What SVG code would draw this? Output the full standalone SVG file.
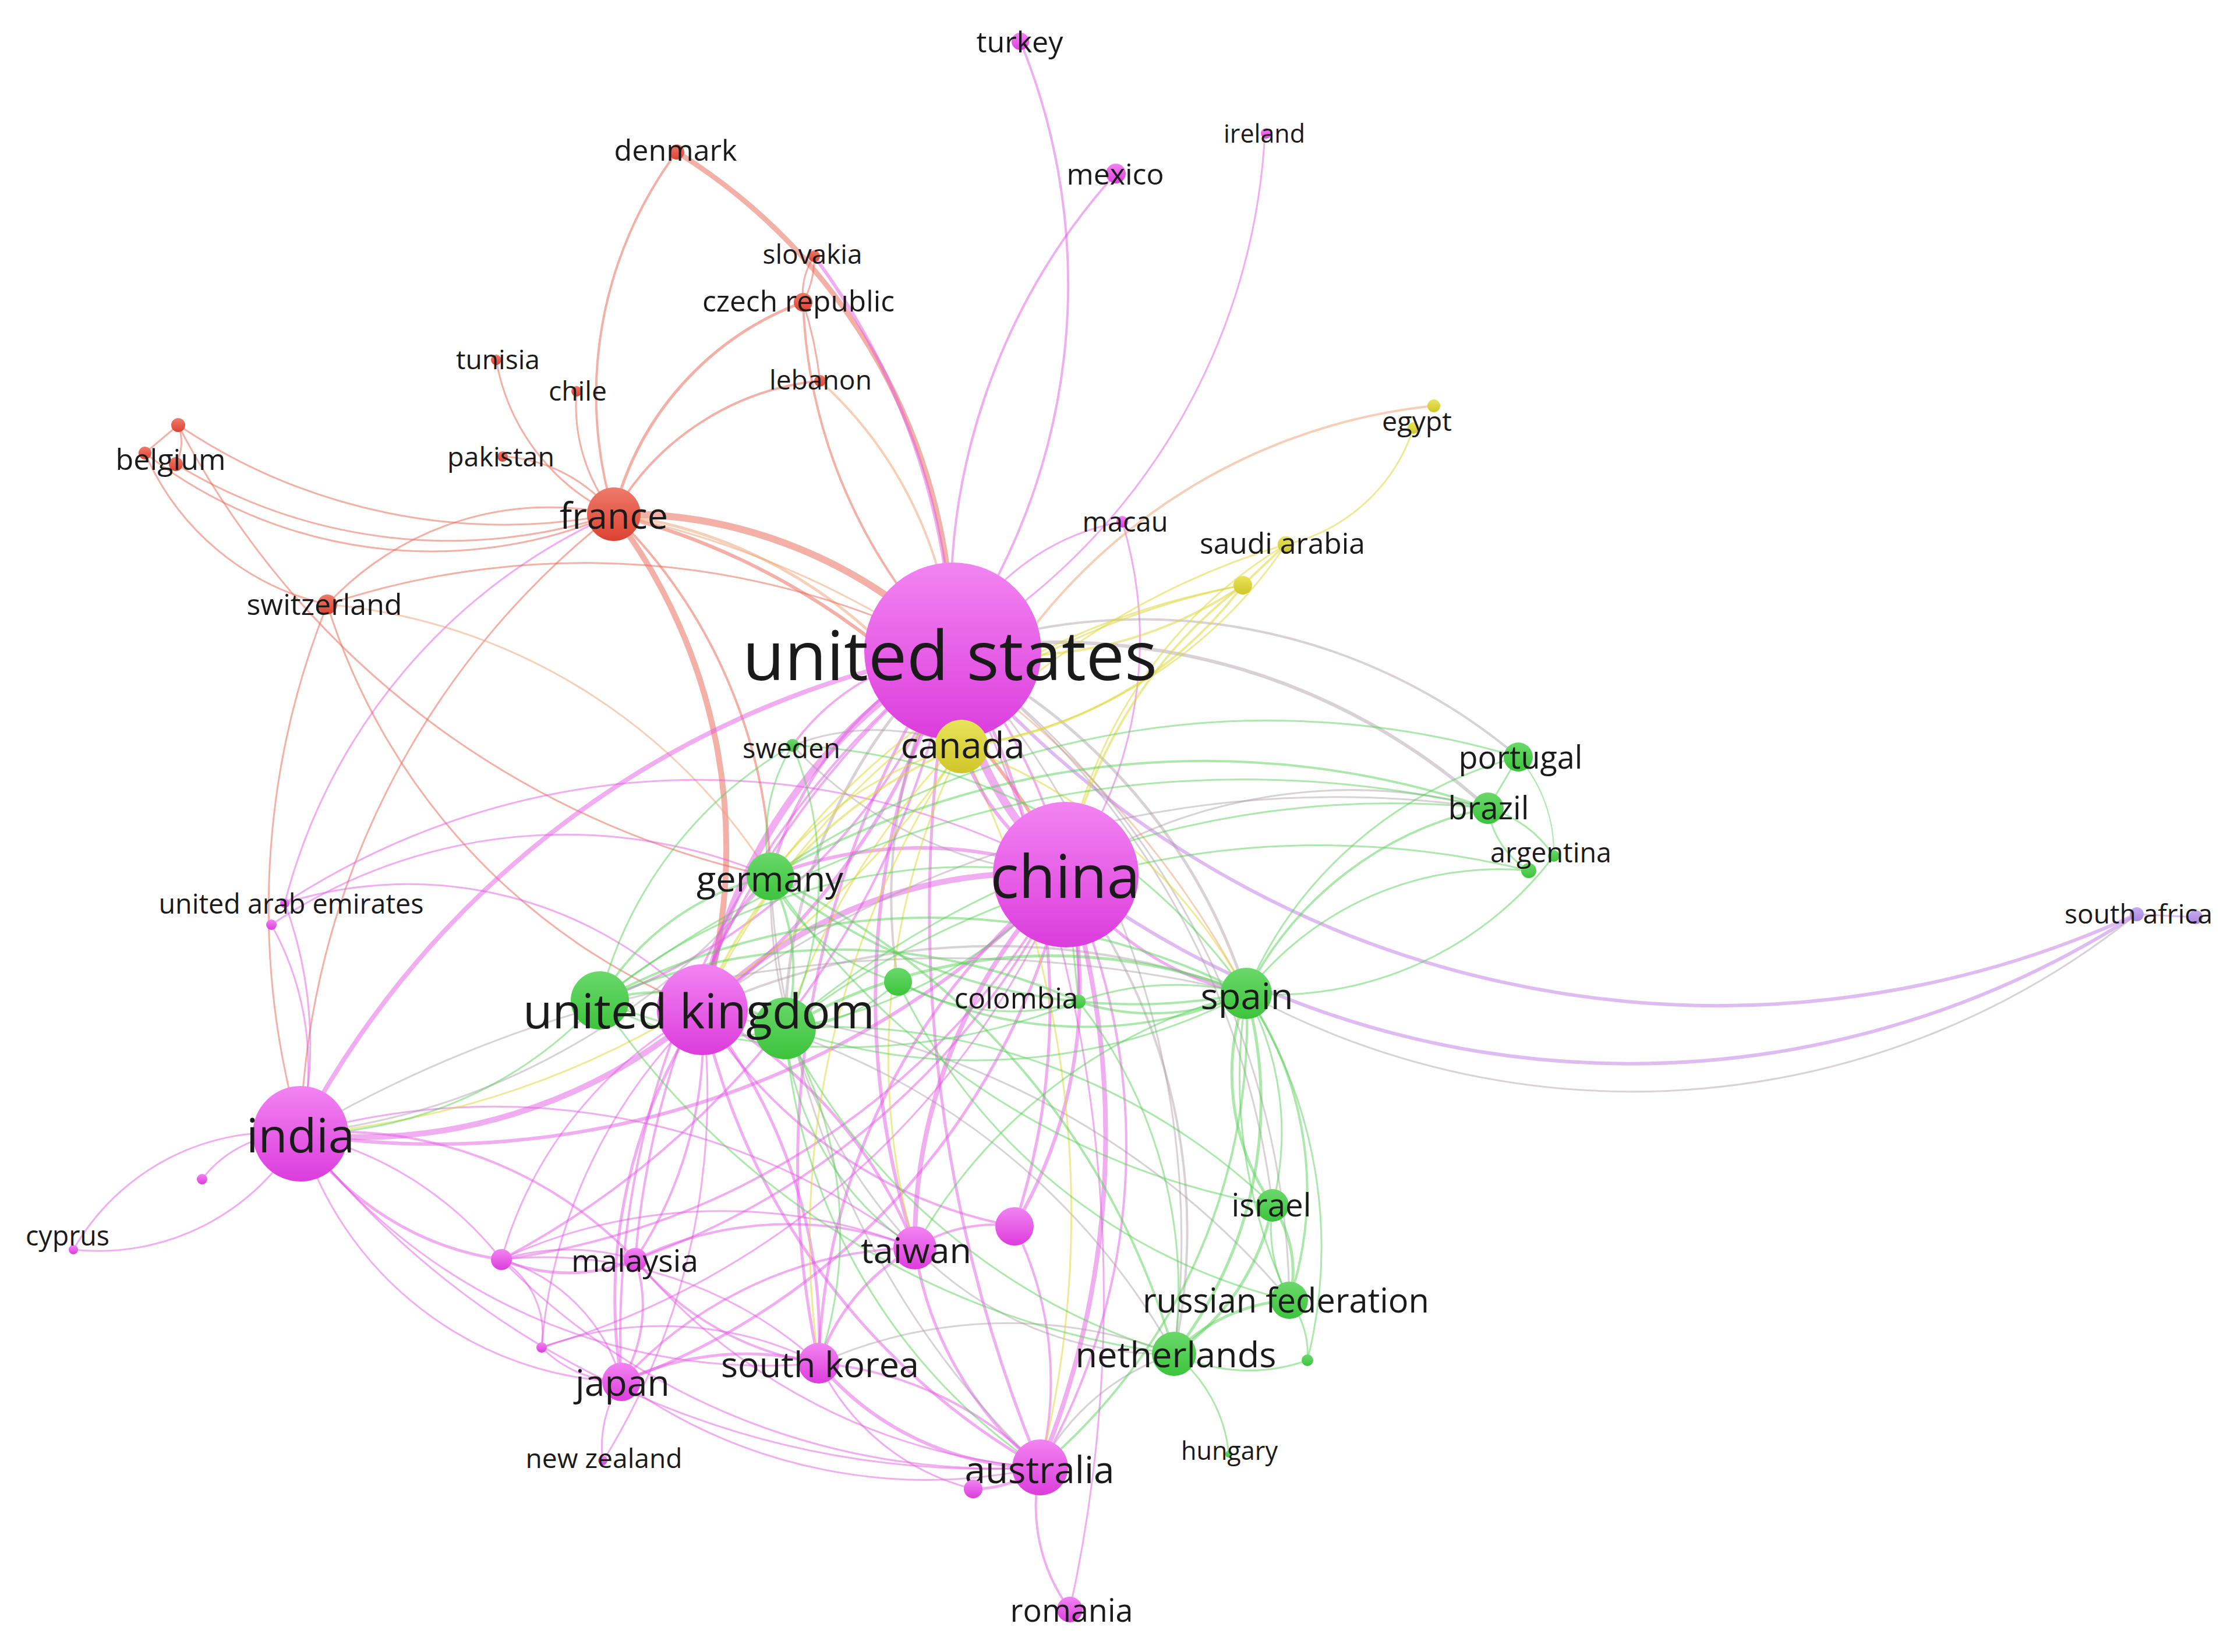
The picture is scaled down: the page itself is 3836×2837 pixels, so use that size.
<svg xmlns="http://www.w3.org/2000/svg" width="3836" height="2837" viewBox="0 0 3836 2837">
<style>
.e path{fill:none;stroke-linecap:round}
.m{stroke:#e25ce2;stroke-opacity:.5}
.g{stroke:#5ad05a;stroke-opacity:.5}
.r{stroke:#e8705e;stroke-opacity:.55}
.y{stroke:#dcd840;stroke-opacity:.55}
.o{stroke:#eba070;stroke-opacity:.5}
.n{stroke:#a89aa4;stroke-opacity:.45}
.p{stroke:#c890e8;stroke-opacity:.6}
.t{font-family:'Open Sans','Liberation Sans',sans-serif;fill:#1a1a1a;text-anchor:middle;dominant-baseline:central}
</style>
<defs>
<linearGradient id="gm" x1="0" y1="0" x2="0" y2="1"><stop offset="0" stop-color="#f284f2"/><stop offset="1" stop-color="#dc3cdc"/></linearGradient>
<linearGradient id="gg" x1="0" y1="0" x2="0" y2="1"><stop offset="0" stop-color="#6ad86a"/><stop offset="1" stop-color="#3cc43c"/></linearGradient>
<linearGradient id="gr" x1="0" y1="0" x2="0" y2="1"><stop offset="0" stop-color="#ee7a6a"/><stop offset="1" stop-color="#dc4232"/></linearGradient>
<linearGradient id="gy" x1="0" y1="0" x2="0" y2="1"><stop offset="0" stop-color="#e8e45a"/><stop offset="1" stop-color="#d0c62a"/></linearGradient>
<linearGradient id="gp" x1="0" y1="0" x2="0" y2="1"><stop offset="0" stop-color="#c6aaee"/><stop offset="1" stop-color="#a888e0"/></linearGradient>
</defs>
<rect width="3836" height="2837" fill="#fff"/>
<g id="connectors" class="e">
<!-- red -->
<path class="r" stroke-width="4" d="M1054 883A700 700 0 0 1 1162 261"/>
<path class="r" stroke-width="5" d="M1054 883A520 520 0 0 1 1379 519"/>
<path class="r" stroke-width="4" d="M1054 883A460 460 0 0 1 1408 654"/>
<path class="r" stroke-width="3" d="M852 618A360 360 0 0 0 1054 883"/>
<path class="r" stroke-width="3" d="M990 672A300 300 0 0 0 1054 883"/>
<path class="r" stroke-width="3" d="M863 784A260 260 0 0 1 1054 883"/>
<path class="r" stroke-width="3" d="M1379 519A120 120 0 0 1 1398 440"/>
<path class="r" stroke-width="3" d="M1379 519A160 160 0 0 0 1398 440"/>
<path class="r" stroke-width="9" d="M1162 261A1000 1000 0 0 1 1636 1118"/>
<path class="m" stroke-width="6" d="M1398 440A1200 1200 0 0 1 1636 1118"/>
<path class="r" stroke-width="4" d="M1379 519A900 900 0 0 0 1636 1118"/>
<path class="o" stroke-width="4" d="M1408 654A700 700 0 0 1 1636 1118"/>
<path class="r" stroke-width="3" d="M1379 519A700 700 0 0 1 1408 654"/>
<path class="r" stroke-width="12" d="M1054 883A800 800 0 0 1 1636 1118"/>
<path class="r" stroke-width="6" d="M1054 883A1200 1200 0 0 1 1830 1502"/>
<path class="r" stroke-width="10" d="M1054 883A950 950 0 0 1 1206 1734"/>
<path class="r" stroke-width="4" d="M1054 883A900 900 0 0 1 1323 1505"/>
<path class="r" stroke-width="3" d="M1054 883A1400 1400 0 0 0 516 1947"/>
<path class="o" stroke-width="5" d="M1054 883A800 800 0 0 1 1651 1282"/>
<path class="m" stroke-width="3" d="M1054 883A1000 1000 0 0 0 489 1551"/>
<path class="o" stroke-width="3" d="M1054 883A1600 1600 0 0 1 2140 1706"/>
<path class="r" stroke-width="3" d="M249 778A800 800 0 0 0 1054 883"/>
<path class="r" stroke-width="3" d="M302 797A900 900 0 0 0 1054 883"/>
<path class="r" stroke-width="3" d="M306 730A1000 1000 0 0 0 1054 883"/>
<path class="r" stroke-width="3" d="M1054 883A520 520 0 0 0 562 1038"/>
<path class="r" stroke-width="3" d="M249 778A450 450 0 0 0 562 1038"/>
<path class="r" stroke-width="3" d="M306 730A1500 1500 0 0 0 1323 1505"/>
<path class="o" stroke-width="3" d="M562 1038A1000 1000 0 0 1 1323 1505"/>
<path class="r" stroke-width="3" d="M562 1038A1400 1400 0 0 0 516 1947"/>
<path class="r" stroke-width="3" d="M562 1038A1100 1100 0 0 0 1206 1734"/>
<path class="r" stroke-width="3" d="M562 1038A1400 1400 0 0 1 1636 1118"/>
<path class="r" stroke-width="3" d="M306 730L249 778"/>
<path class="r" stroke-width="3" d="M306 730A80 80 0 0 1 302 797"/>
<!-- magenta -->
<path class="m" stroke-width="14" d="M1636 1118A600 600 0 0 0 1830 1502"/>
<path class="m" stroke-width="12" d="M1636 1118A900 900 0 0 0 1206 1734"/>
<path class="m" stroke-width="6" d="M1636 1118A1200 1200 0 0 1 1206 1734"/>
<path class="m" stroke-width="8" d="M1636 1118A1600 1600 0 0 0 516 1947"/>
<path class="m" stroke-width="10" d="M516 1947A900 900 0 0 0 1206 1734"/>
<path class="m" stroke-width="6" d="M516 1947A1500 1500 0 0 0 1830 1502"/>
<path class="m" stroke-width="5" d="M516 1947A500 500 0 0 0 861 2163"/>
<path class="m" stroke-width="3" d="M516 1947A600 600 0 0 1 861 2163"/>
<path class="m" stroke-width="4" d="M516 1947A700 700 0 0 1 1091 2163"/>
<path class="m" stroke-width="3" d="M516 1947A600 600 0 0 0 1067 2373"/>
<path class="m" stroke-width="3" d="M516 1947A1000 1000 0 0 0 1406 2341"/>
<path class="m" stroke-width="3" d="M516 1947A1500 1500 0 0 0 1786 2520"/>
<path class="m" stroke-width="3" d="M516 1947A1200 1200 0 0 1 1571 2143"/>
<path class="m" stroke-width="3" d="M516 1947A400 400 0 0 0 126 2146"/>
<path class="m" stroke-width="3" d="M516 1947A400 400 0 0 1 126 2146"/>
<path class="m" stroke-width="3" d="M516 1947A200 200 0 0 0 347 2025"/>
<path class="m" stroke-width="3" d="M466 1588A500 500 0 0 1 516 1947"/>
<path class="m" stroke-width="3" d="M489 1551A700 700 0 0 1 516 1947"/>
<path class="m" stroke-width="3" d="M489 1551A700 700 0 0 1 1206 1734"/>
<path class="m" stroke-width="3" d="M466 1588A900 900 0 0 1 1323 1505"/>
<path class="m" stroke-width="3" d="M489 1551A1300 1300 0 0 1 1830 1502"/>
<path class="m" stroke-width="5" d="M1636 1118A2500 2500 0 0 0 1786 2520"/>
<path class="m" stroke-width="8" d="M1830 1502A1500 1500 0 0 1 1786 2520"/>
<path class="m" stroke-width="4" d="M1830 1502A1100 1100 0 0 1 1786 2520"/>
<path class="m" stroke-width="8" d="M1830 1502A900 900 0 0 0 1571 2143"/>
<path class="m" stroke-width="6" d="M1636 1118A1400 1400 0 0 0 1571 2143"/>
<path class="m" stroke-width="5" d="M1830 1502A1100 1100 0 0 0 1406 2341"/>
<path class="m" stroke-width="5" d="M1636 1118A1600 1600 0 0 0 1406 2341"/>
<path class="m" stroke-width="5" d="M1830 1502A1200 1200 0 0 1 1067 2373"/>
<path class="m" stroke-width="4" d="M1636 1118A1500 1500 0 0 0 1067 2373"/>
<path class="m" stroke-width="4" d="M1830 1502A1300 1300 0 0 1 1091 2163"/>
<path class="m" stroke-width="4" d="M1636 1118A1500 1500 0 0 0 1091 2163"/>
<path class="m" stroke-width="6" d="M1830 1502A800 800 0 0 1 1742 2106"/>
<path class="m" stroke-width="5" d="M1636 1118A1200 1200 0 0 1 1742 2106"/>
<path class="m" stroke-width="4" d="M1206 1734A800 800 0 0 0 1742 2106"/>
<path class="m" stroke-width="10" d="M1830 1502A800 800 0 0 0 1206 1734"/>
<path class="m" stroke-width="6" d="M1830 1502A700 700 0 0 0 1323 1505"/>
<path class="m" stroke-width="5" d="M1636 1118A600 600 0 0 0 1323 1505"/>
<path class="m" stroke-width="4" d="M1752 71A1100 1100 0 0 1 1636 1118"/>
<path class="m" stroke-width="4" d="M1916 298A1100 1100 0 0 0 1636 1118"/>
<path class="m" stroke-width="3" d="M2172 228A1100 1100 0 0 1 1636 1118"/>
<path class="m" stroke-width="3" d="M1927 896A400 400 0 0 0 1636 1118"/>
<path class="m" stroke-width="3" d="M1927 896A700 700 0 0 1 1830 1502"/>
<path class="m" stroke-width="10" d="M1636 1118L1651 1282"/>
<path class="m" stroke-width="4" d="M1636 1118A400 400 0 0 0 1361 1280"/>
<path class="m" stroke-width="4" d="M1636 1118A1000 1000 0 0 1 1030 1718"/>
<path class="n" stroke-width="5" d="M1636 1118A900 900 0 0 0 1348 1766"/>
<path class="m" stroke-width="4" d="M1636 1118A900 900 0 0 1 1852 1720"/>
<path class="m" stroke-width="3" d="M1636 1118A2500 2500 0 0 1 1837 2764"/>
<path class="m" stroke-width="5" d="M1206 1734A900 900 0 0 0 1067 2373"/>
<path class="m" stroke-width="5" d="M1206 1734A900 900 0 0 1 1406 2341"/>
<path class="m" stroke-width="5" d="M1206 1734A800 800 0 0 1 1571 2143"/>
<path class="m" stroke-width="5" d="M1206 1734A1200 1200 0 0 0 1786 2520"/>
<path class="m" stroke-width="4" d="M1206 1734A700 700 0 0 1 1091 2163"/>
<path class="m" stroke-width="3" d="M1206 1734A700 700 0 0 0 861 2163"/>
<path class="m" stroke-width="3" d="M1206 1734A900 900 0 0 0 930 2314"/>
<path class="m" stroke-width="3" d="M1206 1734A1200 1200 0 0 1 1035 2510"/>
<path class="m" stroke-width="5" d="M861 2163A300 300 0 0 0 1091 2163"/>
<path class="m" stroke-width="3" d="M861 2163A400 400 0 0 1 1091 2163"/>
<path class="m" stroke-width="3" d="M861 2163A300 300 0 0 1 1067 2373"/>
<path class="m" stroke-width="3" d="M861 2163A150 150 0 0 1 930 2314"/>
<path class="m" stroke-width="3" d="M861 2163A700 700 0 0 1 1406 2341"/>
<path class="m" stroke-width="3" d="M861 2163A900 900 0 0 1 1571 2143"/>
<path class="m" stroke-width="3" d="M861 2163A1200 1200 0 0 0 1786 2520"/>
<path class="m" stroke-width="4" d="M861 2163A1300 1300 0 0 0 1830 1502"/>
<path class="m" stroke-width="4" d="M861 2163A1500 1500 0 0 0 1636 1118"/>
<path class="m" stroke-width="3" d="M930 2314A200 200 0 0 0 1067 2373"/>
<path class="m" stroke-width="3" d="M930 2314A600 600 0 0 1 1406 2341"/>
<path class="m" stroke-width="3" d="M930 2314A1400 1400 0 0 0 1830 1502"/>
<path class="m" stroke-width="4" d="M1091 2163A250 250 0 0 1 1067 2373"/>
<path class="m" stroke-width="4" d="M1091 2163A500 500 0 0 0 1406 2341"/>
<path class="m" stroke-width="4" d="M1091 2163A600 600 0 0 1 1571 2143"/>
<path class="m" stroke-width="3" d="M1091 2163A1000 1000 0 0 0 1786 2520"/>
<path class="m" stroke-width="5" d="M1067 2373A500 500 0 0 1 1406 2341"/>
<path class="m" stroke-width="4" d="M1067 2373A700 700 0 0 1 1571 2143"/>
<path class="m" stroke-width="3" d="M1067 2373A200 200 0 0 0 1035 2510"/>
<path class="m" stroke-width="3" d="M1067 2373A900 900 0 0 0 1786 2520"/>
<path class="m" stroke-width="5" d="M1406 2341A350 350 0 0 1 1571 2143"/>
<path class="m" stroke-width="6" d="M1406 2341A500 500 0 0 0 1786 2520"/>
<path class="m" stroke-width="4" d="M1406 2341A600 600 0 0 1 1786 2520"/>
<path class="m" stroke-width="5" d="M1571 2143A600 600 0 0 0 1786 2520"/>
<path class="m" stroke-width="4" d="M1571 2143A250 250 0 0 1 1742 2106"/>
<path class="m" stroke-width="4" d="M1742 2106A600 600 0 0 1 1786 2520"/>
<path class="m" stroke-width="5" d="M1786 2520A200 200 0 0 1 1671 2557"/>
<path class="m" stroke-width="4" d="M1786 2520A300 300 0 0 0 1837 2764"/>
<path class="m" stroke-width="3" d="M1406 2341A400 400 0 0 0 1671 2557"/>
<path class="p" stroke-width="6" d="M1636 1118A1723 1723 0 0 0 3669 1570"/>
<path class="p" stroke-width="6" d="M1830 1502A1606 1606 0 0 0 3669 1570"/>
<path class="n" stroke-width="3" d="M2140 1706A1385 1385 0 0 0 3669 1570"/>
<path class="p" stroke-width="3" d="M3669 1570L3770 1575"/>
<!-- mixed -->
<path class="n" stroke-width="5" d="M1636 1118A1000 1000 0 0 1 2140 1706"/>
<path class="m" stroke-width="5" d="M1830 1502A500 500 0 0 0 2140 1706"/>
<path class="n" stroke-width="3" d="M1636 1118A1500 1500 0 0 1 2016 2325"/>
<path class="n" stroke-width="4" d="M1830 1502A1000 1000 0 0 1 2016 2325"/>
<path class="n" stroke-width="6" d="M1636 1118A1100 1100 0 0 1 2555 1388"/>
<path class="n" stroke-width="4" d="M1636 1118A1000 1000 0 0 1 2607 1300"/>
<path class="n" stroke-width="3" d="M1830 1502A900 900 0 0 1 2555 1388"/>
<path class="n" stroke-width="4" d="M1636 1118A900 900 0 0 0 1542 1686"/>
<path class="n" stroke-width="3" d="M1636 1118A1400 1400 0 0 1 2185 2070"/>
<path class="n" stroke-width="3" d="M1636 1118A1400 1400 0 0 1 2214 2233"/>
<path class="n" stroke-width="3" d="M2016 2325A1200 1200 0 0 0 1206 1734"/>
<path class="n" stroke-width="3" d="M2016 2325A600 600 0 0 1 1571 2143"/>
<path class="n" stroke-width="3" d="M2016 2325A800 800 0 0 0 1406 2341"/>
<path class="n" stroke-width="3" d="M2016 2325A400 400 0 0 0 1786 2520"/>
<path class="n" stroke-width="3" d="M2214 2233A1400 1400 0 0 0 1206 1734"/>
<path class="n" stroke-width="3" d="M1323 1505A1500 1500 0 0 0 1786 2520"/>
<path class="n" stroke-width="3" d="M1323 1505A900 900 0 0 0 1571 2143"/>
<path class="n" stroke-width="4" d="M2140 1706A1200 1200 0 0 0 1206 1734"/>
<path class="n" stroke-width="3" d="M2140 1706A2200 2200 0 0 0 516 1947"/>
<path class="n" stroke-width="3" d="M2555 1388A1800 1800 0 0 0 1206 1734"/>
<path class="n" stroke-width="3" d="M1361 1280A400 400 0 0 1 1651 1282"/>
<path class="n" stroke-width="3" d="M1361 1280A700 700 0 0 0 1830 1502"/>
<path class="n" stroke-width="3" d="M1323 1505A1200 1200 0 0 1 516 1947"/>
<!-- yellow -->
<path class="y" stroke-width="4" d="M2134 1005A700 700 0 0 1 1636 1118"/>
<path class="y" stroke-width="4" d="M2134 1005A700 700 0 0 1 1651 1282"/>
<path class="y" stroke-width="3" d="M2208 935A800 800 0 0 1 1651 1282"/>
<path class="y" stroke-width="4" d="M2134 1005A800 800 0 0 0 1830 1502"/>
<path class="y" stroke-width="3" d="M2208 935A800 800 0 0 0 1830 1502"/>
<path class="y" stroke-width="4" d="M2208 935L2134 1005"/>
<path class="y" stroke-width="3" d="M2208 935A300 300 0 0 0 2427 735"/>
<path class="o" stroke-width="4" d="M2462 697A1000 1000 0 0 0 1651 1282"/>
<path class="y" stroke-width="3" d="M2134 1005A1300 1300 0 0 0 1323 1505"/>
<path class="y" stroke-width="3" d="M2134 1005A1300 1300 0 0 0 1206 1734"/>
<path class="y" stroke-width="3" d="M2208 935A1300 1300 0 0 0 1348 1766"/>
<path class="y" stroke-width="4" d="M1651 1282A800 800 0 0 0 1206 1734"/>
<path class="y" stroke-width="3" d="M1651 1282A1800 1800 0 0 1 1786 2520"/>
<path class="y" stroke-width="3" d="M1651 1282A1200 1200 0 0 0 1571 2143"/>
<path class="y" stroke-width="3" d="M1651 1282A900 900 0 0 1 2140 1706"/>
<path class="y" stroke-width="3" d="M1651 1282A1500 1500 0 0 0 1406 2341"/>
<path class="y" stroke-width="3" d="M1651 1282A1500 1500 0 0 1 516 1947"/>
<path class="y" stroke-width="3" d="M1651 1282A600 600 0 0 0 1323 1505"/>
<path class="m" stroke-width="6" d="M1651 1282A400 400 0 0 0 1830 1502"/>
<!-- green -->
<path class="g" stroke-width="4" d="M2140 1706A600 600 0 0 1 2555 1388"/>
<path class="g" stroke-width="3" d="M2140 1706A700 700 0 0 1 2607 1300"/>
<path class="g" stroke-width="3" d="M2140 1706A550 550 0 0 1 2625 1495"/>
<path class="g" stroke-width="3" d="M2668 1470A600 600 0 0 1 2140 1706"/>
<path class="g" stroke-width="5" d="M2140 1706A400 400 0 0 0 2185 2070"/>
<path class="g" stroke-width="3" d="M2140 1706A500 500 0 0 1 2185 2070"/>
<path class="g" stroke-width="4" d="M2140 1706A600 600 0 0 1 2214 2233"/>
<path class="g" stroke-width="3" d="M2140 1706A900 900 0 0 0 2214 2233"/>
<path class="g" stroke-width="5" d="M2140 1706A700 700 0 0 1 2016 2325"/>
<path class="g" stroke-width="3" d="M2140 1706A800 800 0 0 1 2245 2336"/>
<path class="g" stroke-width="4" d="M2140 1706A400 400 0 0 1 1852 1720"/>
<path class="g" stroke-width="3" d="M2140 1706A500 500 0 0 0 1852 1720"/>
<path class="g" stroke-width="4" d="M2140 1706A700 700 0 0 1 1542 1686"/>
<path class="g" stroke-width="5" d="M2140 1706A900 900 0 0 0 1348 1766"/>
<path class="g" stroke-width="3" d="M2140 1706A1000 1000 0 0 1 1348 1766"/>
<path class="g" stroke-width="4" d="M2140 1706A1200 1200 0 0 0 1030 1718"/>
<path class="g" stroke-width="4" d="M2140 1706A1000 1000 0 0 1 1323 1505"/>
<path class="g" stroke-width="3" d="M2140 1706A1000 1000 0 0 0 1361 1280"/>
<path class="g" stroke-width="4" d="M2140 1706A1000 1000 0 0 1 1786 2520"/>
<path class="g" stroke-width="3" d="M2140 1706A900 900 0 0 0 1571 2143"/>
<path class="g" stroke-width="3" d="M2555 1388L2607 1300"/>
<path class="g" stroke-width="3" d="M2555 1388A150 150 0 0 0 2625 1495"/>
<path class="g" stroke-width="3" d="M2555 1388A200 200 0 0 1 2668 1470"/>
<path class="g" stroke-width="2" d="M2607 1300A250 250 0 0 1 2668 1470"/>
<path class="g" stroke-width="4" d="M2555 1388A1500 1500 0 0 0 1323 1505"/>
<path class="g" stroke-width="3" d="M2555 1388A1800 1800 0 0 0 1030 1718"/>
<path class="g" stroke-width="3" d="M2555 1388A1600 1600 0 0 0 1348 1766"/>
<path class="g" stroke-width="3" d="M2607 1300A1500 1500 0 0 0 1323 1505"/>
<path class="g" stroke-width="3" d="M2625 1495A1500 1500 0 0 0 1348 1766"/>
<path class="g" stroke-width="5" d="M2016 2325A300 300 0 0 1 2214 2233"/>
<path class="g" stroke-width="5" d="M2016 2325A400 400 0 0 0 2185 2070"/>
<path class="g" stroke-width="3" d="M2016 2325A300 300 0 0 0 2245 2336"/>
<path class="g" stroke-width="3" d="M2016 2325A250 250 0 0 1 2110 2497"/>
<path class="g" stroke-width="4" d="M2016 2325A1300 1300 0 0 0 1323 1505"/>
<path class="g" stroke-width="3" d="M2016 2325A1100 1100 0 0 1 1348 1766"/>
<path class="g" stroke-width="3" d="M2016 2325A1400 1400 0 0 1 1030 1718"/>
<path class="g" stroke-width="3" d="M2016 2325A800 800 0 0 0 1852 1720"/>
<path class="g" stroke-width="5" d="M2214 2233A200 200 0 0 0 2185 2070"/>
<path class="g" stroke-width="3" d="M2214 2233A260 260 0 0 1 2185 2070"/>
<path class="g" stroke-width="3" d="M2214 2233A150 150 0 0 1 2245 2336"/>
<path class="g" stroke-width="3" d="M2185 2070A1300 1300 0 0 1 1323 1505"/>
<path class="g" stroke-width="3" d="M2185 2070A1100 1100 0 0 0 1348 1766"/>
<path class="g" stroke-width="3" d="M2214 2233A1000 1000 0 0 1 1542 1686"/>
<path class="g" stroke-width="3" d="M1323 1505A300 300 0 0 1 1361 1280"/>
<path class="g" stroke-width="4" d="M1323 1505A450 450 0 0 0 1030 1718"/>
<path class="g" stroke-width="4" d="M1323 1505A350 350 0 0 1 1348 1766"/>
<path class="m" stroke-width="5" d="M1323 1505A350 350 0 0 0 1206 1734"/>
<path class="g" stroke-width="3" d="M1323 1505A350 350 0 0 0 1542 1686"/>
<path class="g" stroke-width="3" d="M1361 1280A700 700 0 0 0 1030 1718"/>
<path class="g" stroke-width="3" d="M1361 1280A600 600 0 0 1 1348 1766"/>
<path class="g" stroke-width="4" d="M1030 1718A400 400 0 0 1 1348 1766"/>
<path class="g" stroke-width="3" d="M1030 1718A400 400 0 0 0 1348 1766"/>
<path class="g" stroke-width="3" d="M1030 1718A700 700 0 0 1 516 1947"/>
<path class="g" stroke-width="3" d="M1030 1718A1000 1000 0 0 1 1830 1502"/>
<path class="g" stroke-width="3" d="M1348 1766A800 800 0 0 0 1830 1502"/>
<path class="g" stroke-width="3" d="M1348 1766A1000 1000 0 0 0 1786 2520"/>
<path class="g" stroke-width="3" d="M1348 1766A500 500 0 0 0 1571 2143"/>
<path class="g" stroke-width="3" d="M1348 1766A700 700 0 0 1 1406 2341"/>
<path class="g" stroke-width="3" d="M1542 1686A400 400 0 0 0 1852 1720"/>
<path class="g" stroke-width="3" d="M1542 1686A300 300 0 0 1 1348 1766"/>
<path class="g" stroke-width="3" d="M1852 1720L1830 1502"/>
<path class="g" stroke-width="4" d="M1852 1720A1000 1000 0 0 0 1030 1718"/>
<path class="g" stroke-width="3" d="M1852 1720A1100 1100 0 0 1 1030 1718"/>
</g>
<g id="nodes">
<g id="n-united-states"><circle cx="1636" cy="1118" r="152" fill="url(#gm)"/><text class="t" x="1631" y="1122" font-size="118" textLength="712" lengthAdjust="spacingAndGlyphs">united states</text></g>
<g id="n-china"><circle cx="1830" cy="1502" r="125" fill="url(#gm)"/><text class="t" x="1829" y="1502" font-size="102" textLength="257" lengthAdjust="spacingAndGlyphs">china</text></g>
<g id="n-green-a"><circle cx="1030" cy="1718" r="50" fill="url(#gg)"/></g>
<g id="n-green-b"><circle cx="1348" cy="1766" r="53" fill="url(#gg)"/></g>
<g id="n-united-kingdom"><circle cx="1206" cy="1734" r="78" fill="url(#gm)"/><text class="t" x="1200" y="1734" font-size="82" textLength="604" lengthAdjust="spacingAndGlyphs">united kingdom</text></g>
<g id="n-india"><circle cx="516" cy="1947" r="82" fill="url(#gm)"/><text class="t" x="516" y="1947" font-size="81" textLength="186" lengthAdjust="spacingAndGlyphs">india</text></g>
<g id="n-canada"><circle cx="1651" cy="1282" r="46" fill="url(#gy)"/><text class="t" x="1653" y="1277" font-size="63" textLength="213" lengthAdjust="spacingAndGlyphs">canada</text></g>
<g id="n-france"><circle cx="1054" cy="883" r="46" fill="url(#gr)"/><text class="t" x="1054" y="883" font-size="63" textLength="186" lengthAdjust="spacingAndGlyphs">france</text></g>
<g id="n-australia"><circle cx="1786" cy="2520" r="48" fill="url(#gm)"/><text class="t" x="1785" y="2522" font-size="64" textLength="257" lengthAdjust="spacingAndGlyphs">australia</text></g>
<g id="n-taiwan"><circle cx="1571" cy="2143" r="37" fill="url(#gm)"/><text class="t" x="1573" y="2145" font-size="61" textLength="190" lengthAdjust="spacingAndGlyphs">taiwan</text></g>
<g id="n-south-korea"><circle cx="1406" cy="2341" r="35" fill="url(#gm)"/><text class="t" x="1408" y="2341" font-size="61" textLength="340" lengthAdjust="spacingAndGlyphs">south korea</text></g>
<g id="n-japan"><circle cx="1067" cy="2373" r="33" fill="url(#gm)"/><text class="t" x="1069" y="2373" font-size="62" textLength="162" lengthAdjust="spacingAndGlyphs">japan</text></g>
<g id="n-malaysia"><circle cx="1091" cy="2163" r="20" fill="url(#gm)"/><text class="t" x="1090" y="2163" font-size="53" textLength="218" lengthAdjust="spacingAndGlyphs">malaysia</text></g>
<g id="n-pink-a"><circle cx="1742" cy="2106" r="33" fill="url(#gm)"/></g>
<g id="n-pink-b"><circle cx="861" cy="2163" r="18" fill="url(#gm)"/></g>
<g id="n-pink-c"><circle cx="930" cy="2314" r="9" fill="url(#gm)"/></g>
<g id="n-pink-d"><circle cx="347" cy="2025" r="9" fill="url(#gm)"/></g>
<g id="n-pink-e"><circle cx="1671" cy="2557" r="16" fill="url(#gm)"/></g>
<g id="n-pink-f"><circle cx="466" cy="1588" r="9" fill="url(#gm)"/></g>
<g id="n-new-zealand"><circle cx="1035" cy="2508" r="8" fill="url(#gm)"/><text class="t" x="1037" y="2503" font-size="46" textLength="269" lengthAdjust="spacingAndGlyphs">new zealand</text></g>
<g id="n-romania"><circle cx="1837" cy="2764" r="22" fill="url(#gm)"/><text class="t" x="1840" y="2764" font-size="54" textLength="211" lengthAdjust="spacingAndGlyphs">romania</text></g>
<g id="n-cyprus"><circle cx="126" cy="2146" r="8" fill="url(#gm)"/><text class="t" x="116" y="2121" font-size="47" textLength="144" lengthAdjust="spacingAndGlyphs">cyprus</text></g>
<g id="n-united-arab-emirates"><circle cx="489" cy="1551" r="8" fill="url(#gm)"/><text class="t" x="500" y="1551" font-size="47" textLength="455" lengthAdjust="spacingAndGlyphs">united arab emirates</text></g>
<g id="n-turkey"><circle cx="1752" cy="71" r="15" fill="url(#gm)"/><text class="t" x="1751" y="71" font-size="50" textLength="149" lengthAdjust="spacingAndGlyphs">turkey</text></g>
<g id="n-mexico"><circle cx="1916" cy="298" r="17" fill="url(#gm)"/><text class="t" x="1915" y="298" font-size="50" textLength="167" lengthAdjust="spacingAndGlyphs">mexico</text></g>
<g id="n-ireland"><circle cx="2174" cy="229" r="9" fill="url(#gm)"/><text class="t" x="2171" y="228" font-size="43" textLength="140" lengthAdjust="spacingAndGlyphs">ireland</text></g>
<g id="n-macau"><circle cx="1927" cy="896" r="10" fill="url(#gm)"/><text class="t" x="1932" y="895" font-size="47" textLength="147" lengthAdjust="spacingAndGlyphs">macau</text></g>
<g id="n-germany"><circle cx="1323" cy="1505" r="41" fill="url(#gg)"/><text class="t" x="1322" y="1507" font-size="61" textLength="252" lengthAdjust="spacingAndGlyphs">germany</text></g>
<g id="n-spain"><circle cx="2140" cy="1706" r="44" fill="url(#gg)"/><text class="t" x="2141" y="1708" font-size="63" textLength="159" lengthAdjust="spacingAndGlyphs">spain</text></g>
<g id="n-brazil"><circle cx="2555" cy="1388" r="27" fill="url(#gg)"/><text class="t" x="2556" y="1385" font-size="55" textLength="139" lengthAdjust="spacingAndGlyphs">brazil</text></g>
<g id="n-portugal"><circle cx="2607" cy="1300" r="25" fill="url(#gg)"/><text class="t" x="2611" y="1299" font-size="54" textLength="213" lengthAdjust="spacingAndGlyphs">portugal</text></g>
<g id="n-green-c"><circle cx="2625" cy="1495" r="13" fill="url(#gg)"/></g>
<g id="n-argentina"><circle cx="2668" cy="1470" r="10" fill="url(#gg)"/><text class="t" x="2663" y="1463" font-size="47" textLength="208" lengthAdjust="spacingAndGlyphs">argentina</text></g>
<g id="n-sweden"><circle cx="1361" cy="1280" r="11" fill="url(#gg)"/><text class="t" x="1359" y="1284" font-size="47" textLength="168" lengthAdjust="spacingAndGlyphs">sweden</text></g>
<g id="n-green-d"><circle cx="1542" cy="1686" r="24" fill="url(#gg)"/></g>
<g id="n-colombia"><circle cx="1852" cy="1720" r="12" fill="url(#gg)"/><text class="t" x="1745" y="1713" font-size="50" textLength="213" lengthAdjust="spacingAndGlyphs">colombia</text></g>
<g id="n-israel"><circle cx="2185" cy="2070" r="28" fill="url(#gg)"/><text class="t" x="2183" y="2067" font-size="55" textLength="137" lengthAdjust="spacingAndGlyphs">israel</text></g>
<g id="n-russian-federation"><circle cx="2214" cy="2233" r="32" fill="url(#gg)"/><text class="t" x="2208" y="2231" font-size="58" textLength="492" lengthAdjust="spacingAndGlyphs">russian federation</text></g>
<g id="n-netherlands"><circle cx="2016" cy="2325" r="38" fill="url(#gg)"/><text class="t" x="2019" y="2324" font-size="61" textLength="345" lengthAdjust="spacingAndGlyphs">netherlands</text></g>
<g id="n-green-e"><circle cx="2245" cy="2336" r="10" fill="url(#gg)"/></g>
<g id="n-hungary"><circle cx="2110" cy="2497" r="6" fill="url(#gg)"/><text class="t" x="2111" y="2490" font-size="43" textLength="166" lengthAdjust="spacingAndGlyphs">hungary</text></g>
<g id="n-denmark"><circle cx="1162" cy="261" r="13" fill="url(#gr)"/><text class="t" x="1160" y="257" font-size="50" textLength="211" lengthAdjust="spacingAndGlyphs">denmark</text></g>
<g id="n-slovakia"><circle cx="1398" cy="440" r="10" fill="url(#gr)"/><text class="t" x="1395" y="435" font-size="46" textLength="171" lengthAdjust="spacingAndGlyphs">slovakia</text></g>
<g id="n-czech-republic"><circle cx="1379" cy="519" r="16" fill="url(#gr)"/><text class="t" x="1371" y="516" font-size="50" textLength="330" lengthAdjust="spacingAndGlyphs">czech republic</text></g>
<g id="n-tunisia"><circle cx="852" cy="618" r="9" fill="url(#gr)"/><text class="t" x="855" y="616" font-size="46" textLength="144" lengthAdjust="spacingAndGlyphs">tunisia</text></g>
<g id="n-chile"><circle cx="990" cy="672" r="9" fill="url(#gr)"/><text class="t" x="992" y="670" font-size="46" textLength="100" lengthAdjust="spacingAndGlyphs">chile</text></g>
<g id="n-lebanon"><circle cx="1408" cy="654" r="10" fill="url(#gr)"/><text class="t" x="1409" y="651" font-size="46" textLength="176" lengthAdjust="spacingAndGlyphs">lebanon</text></g>
<g id="n-pakistan"><circle cx="863" cy="784" r="9" fill="url(#gr)"/><text class="t" x="860" y="783" font-size="46" textLength="184" lengthAdjust="spacingAndGlyphs">pakistan</text></g>
<g id="n-red-a"><circle cx="306" cy="730" r="12" fill="url(#gr)"/></g>
<g id="n-red-b"><circle cx="249" cy="778" r="11" fill="url(#gr)"/></g>
<g id="n-belgium"><circle cx="302" cy="797" r="12" fill="url(#gr)"/><text class="t" x="293" y="788" font-size="50" textLength="189" lengthAdjust="spacingAndGlyphs">belgium</text></g>
<g id="n-switzerland"><circle cx="562" cy="1038" r="17" fill="url(#gr)"/><text class="t" x="557" y="1037" font-size="50" textLength="267" lengthAdjust="spacingAndGlyphs">switzerland</text></g>
<g id="n-yellow-a"><circle cx="2134" cy="1005" r="16" fill="url(#gy)"/></g>
<g id="n-saudi-arabia"><circle cx="2208" cy="935" r="14" fill="url(#gy)"/><text class="t" x="2202" y="932" font-size="50" textLength="284" lengthAdjust="spacingAndGlyphs">saudi arabia</text></g>
<g id="n-yellow-b"><circle cx="2462" cy="697" r="11" fill="url(#gy)"/></g>
<g id="n-egypt"><circle cx="2427" cy="735" r="10" fill="url(#gy)"/><text class="t" x="2433" y="722" font-size="46" textLength="120" lengthAdjust="spacingAndGlyphs">egypt</text></g>
<g id="n-purple-a"><circle cx="3770" cy="1575" r="12" fill="url(#gp)"/></g>
<g id="n-south-africa"><circle cx="3669" cy="1570" r="12" fill="url(#gp)"/><text class="t" x="3672" y="1568" font-size="46" textLength="254" lengthAdjust="spacingAndGlyphs">south africa</text></g>
</g>
</svg>
